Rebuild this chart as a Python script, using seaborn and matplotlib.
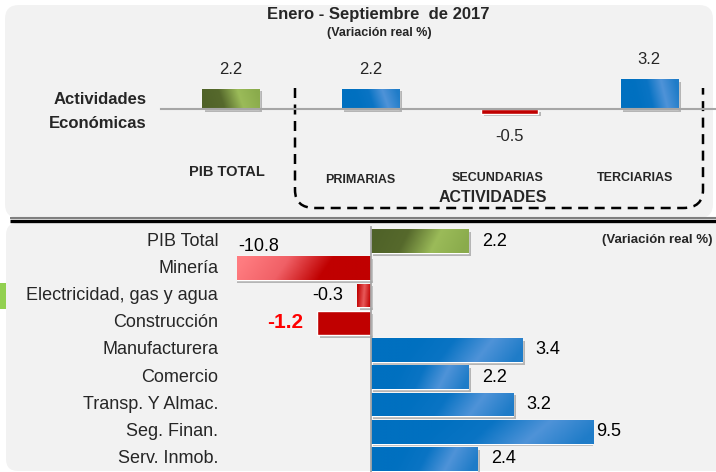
import numpy as np
import matplotlib
matplotlib.use("Agg")
import matplotlib.pyplot as plt
import seaborn as sns
from matplotlib import font_manager
from matplotlib.patches import FancyBboxPatch, Rectangle, PathPatch
from matplotlib.path import Path
from matplotlib.colors import LinearSegmentedColormap
import matplotlib.patheffects as pe

# ---------------- data ----------------
title = "Enero - Septiembre  de 2017"
subtitle = "(Variación real %)"
side_label = ["Actividades", "Económicas"]
group_label = "ACTIVIDADES"

top_categories = ["PIB TOTAL", "PRIMARIAS", "SECUNDARIAS", "TERCIARIAS"]
top_values = [2.2, 2.2, -0.5, 3.2]

bottom_categories = ["PIB Total", "Minería", "Electricidad, gas y agua", "Construcción",
                     "Manufacturera", "Comercio", "Transp. Y Almac.", "Seg. Finan.",
                     "Serv. Inmob."]
bottom_values = [2.2, -10.8, -0.3, -1.2, 3.4, 2.2, 3.2, 9.5, 2.4]
highlight = ["Construcción"]

# ---------------- style ----------------
sns.set_style("white")


def font_available(name):
    try:
        font_manager.findfont(font_manager.FontProperties(family=name), fallback_to_default=False)
        return True
    except Exception:
        return False


if font_available("Liberation Sans Narrow"):
    plt.rcParams["font.family"] = ["Liberation Sans Narrow", "DejaVu Sans"]
    K = 1 / 0.82
else:
    plt.rcParams["font.family"] = ["Liberation Sans", "DejaVu Sans"]
    K = 1.0


def fs(x):
    return x * K


GRAD = {
    "green": ["#4f6228", "#56692c", "#9bbb59", "#8aab4c"],
    "blue": ["#0070c0", "#0070c0", "#0a74c4", "#4f93d8", "#1f7cc8"],
    "red": ["#c00000", "#c00000"],
    "pink": ["#ff7c80", "#f06066", "#c00000", "#c00000"],
    "redstripe": ["#c00000", "#e85a5a", "#c00000"],
}
top_fill = ["green", "blue", "red", "blue"]
bottom_fill = ["green", "pink", "redstripe", "red", "blue", "blue", "blue", "blue", "blue"]

W, H = 716, 472
fig = plt.figure(figsize=(W / 100, H / 100), dpi=100)
fig.patch.set_facecolor("white")

# background / decoration axes in pixel coordinates
bg = fig.add_axes([0, 0, 1, 1])
bg.set_xlim(0, W)
bg.set_ylim(H, 0)
bg.axis("off")
bg.set_zorder(0)
bg.add_patch(FancyBboxPatch((5, 5), 708, 213, boxstyle="round,pad=0,rounding_size=14",
                            fc="#f2f2f2", ec="none"))
bg.add_patch(FancyBboxPatch((6, 223), 740, 248, boxstyle="round,pad=0,rounding_size=12",
                            fc="#f2f2f2", ec="none"))
bg.plot([10, W], [217.5, 217.5], color="#808080", lw=1.5, solid_capstyle="butt")
bg.plot([10, W], [221, 221], color="black", lw=2.4, solid_capstyle="butt")
bg.add_patch(Rectangle((0, 283), 6, 26, fc="#92d050", ec="none"))

# dashed bracket
verts = [(295, 88), (295, 190), (295, 208), (315, 208), (683, 208), (703, 208), (703, 190), (703, 88)]
codes = [Path.MOVETO, Path.LINETO, Path.CURVE3, Path.CURVE3, Path.LINETO, Path.CURVE3, Path.CURVE3, Path.LINETO]
bg.add_patch(PathPatch(Path(verts, codes), fc="none", ec="black", lw=1.8, ls=(0, (4, 2.6))))

bg.text(378.5, 15, title, ha="center", va="center", fontsize=fs(12), fontweight="bold")
bg.text(379.5, 33, subtitle, ha="center", va="center", fontsize=fs(9), fontweight="bold")
bg.text(147, 100, side_label[0], ha="right", va="center", fontsize=fs(12), fontweight="bold")
bg.text(147, 123, side_label[1], ha="right", va="center", fontsize=fs(12), fontweight="bold")
bg.text(493, 198, group_label, ha="center", va="center", fontsize=fs(11.5), fontweight="bold")
bg.text(657, 240, subtitle, ha="center", va="center", fontsize=fs(9.5), fontweight="bold")


def fill_gradient(ax, patch, colors, xlim=None):
    x0, y0 = patch.get_x(), patch.get_y()
    w, h = patch.get_width(), patch.get_height()
    xa, xb = sorted([x0, x0 + w])
    ya, yb = sorted([y0, y0 + h])
    if xlim is not None:
        xa, xb = max(xa, xlim[0]), min(xb, xlim[1])
    if len(set(colors)) == 1:
        return
    cmap = LinearSegmentedColormap.from_list("g", colors)
    gx = np.linspace(0, 1, 256)[None, :]
    gy = np.linspace(0, 1, 32)[:, None]
    img = np.clip(gx + 0.12 * (gy - 0.5), 0, 1)
    im = ax.imshow(img, cmap=cmap, extent=(xa, xb, yb, ya), aspect="auto",
                   interpolation="bilinear", zorder=patch.get_zorder() + 0.1)
    im.set_clip_path(patch)


shadow = [pe.SimplePatchShadow(offset=(2, -2), shadow_rgbFace="black", alpha=0.25), pe.Normal()]

# ---------------- top chart ----------------
ax_top = fig.add_axes([161 / W, 1 - 160 / H, 558 / W, 120 / H])
ax_top.set_zorder(2)
ax_top.set_facecolor("none")
sns.barplot(x=top_categories, y=top_values, hue=top_categories,
            palette=[GRAD[f][0] for f in top_fill], saturation=1, legend=False,
            width=0.41, ax=ax_top)
for p, f in zip(ax_top.patches, top_fill):
    p.set_path_effects(shadow)
    fill_gradient(ax_top, p, GRAD[f])
ax_top.set_xlim(-0.5, 3.5)
ax_top.set_ylim(-(160 - 109) / 9.3, (109 - 40) / 9.3)
for s in ["top", "right", "left"]:
    ax_top.spines[s].set_visible(False)
ax_top.spines["bottom"].set_position(("data", 0))
ax_top.spines["bottom"].set_color("#a6a6a6")
ax_top.spines["bottom"].set_linewidth(1.5)
ax_top.set_xticks(np.arange(-0.5, 4, 1))
ax_top.set_xticklabels([])
ax_top.tick_params(axis="x", length=6, width=1.2, color="#a6a6a6", direction="out")
ax_top.set_yticks([])
ax_top.set_xlabel("")
ax_top.set_ylabel("")
for i, v in enumerate(top_values):
    ax_top.annotate(f"{v:.1f}", (i, v), xytext=(0, 14 if v > 0 else -16.5),
                    textcoords="offset points", ha="center", va="center", fontsize=fs(12))
top_label_y = [172, 180, 178, 178]
top_label_dx = [-3, -7, -9, -10]
top_label_size = [10.5, 9, 9, 9]
for i, c in enumerate(top_categories):
    ax_top.annotate(c, (i, (160 - top_label_y[i]) / 120), xycoords=ax_top.get_xaxis_transform(),
                    xytext=(top_label_dx[i], 0), textcoords="offset points",
                    ha="center", va="center", fontsize=fs(top_label_size[i]), fontweight="bold",
                    annotation_clip=False)

# ---------------- bottom chart ----------------
XLIM = (-3, 5)
ax_bot = fig.add_axes([237 / W, (H - 472.6) / H, 356 / W, 245.2 / H])
ax_bot.set_zorder(2)
ax_bot.set_facecolor("none")
sns.barplot(x=bottom_values, y=bottom_categories, hue=bottom_categories, orient="h",
            palette=[GRAD[f][0] for f in bottom_fill], saturation=1, legend=False,
            width=0.88, ax=ax_bot)
for p, f in zip(ax_bot.patches, bottom_fill):
    p.set_path_effects(shadow)
    fill_gradient(ax_bot, p, GRAD[f], xlim=XLIM)
ax_bot.set_xlim(*XLIM)
ax_bot.set_ylim(len(bottom_values) - 0.5, -0.5)
for s in ["top", "right", "bottom"]:
    ax_bot.spines[s].set_visible(False)
ax_bot.spines["left"].set_position(("data", 0))
ax_bot.spines["left"].set_color("#a6a6a6")
ax_bot.spines["left"].set_linewidth(1.3)
ax_bot.set_yticks(np.arange(-0.5, len(bottom_values), 1))
ax_bot.set_yticklabels([])
ax_bot.tick_params(axis="y", length=5, width=1.2, color="#bfbfbf", direction="out")
ax_bot.set_xticks([])
ax_bot.set_xlabel("")
ax_bot.set_ylabel("")

for i, (c, v) in enumerate(zip(bottom_categories, bottom_values)):
    ax_bot.text(-0.053, i, c, transform=ax_bot.get_yaxis_transform(), ha="right",
                va="center", fontsize=fs(13))
    kw = dict(fontsize=fs(13), color="black", fontweight="normal")
    if c in highlight:
        kw = dict(fontsize=fs(15), color="#ff0000", fontweight="bold")
    if v > XLIM[1]:
        xy, off, ha = (XLIM[1], i), (2.5, 0), "left"
    elif v >= 0:
        xy, off, ha = (v, i), (10, 0), "left"
    elif v >= XLIM[0]:
        xy, off, ha = (v, i), (-10, 0), "right"
    else:
        xy, off, ha = (XLIM[0], i), (1, 16), "left"
    ax_bot.annotate(f"{v:.1f}", xy, xytext=off, textcoords="offset points", ha=ha,
                    va="center", annotation_clip=False, **kw)

fig.savefig("out.png", dpi=100)
